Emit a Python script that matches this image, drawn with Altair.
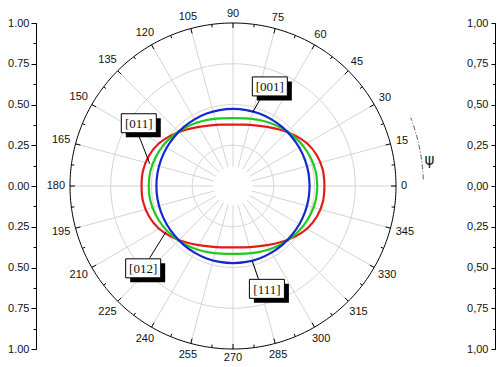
import altair as alt
import pandas as pd

# ---------------- data ----------------
angles = [0, 10, 20, 30, 40, 50, 60, 70, 80, 90,
          100, 110, 120, 130, 140, 150, 160, 170, 180,
          190, 200, 210, 220, 230, 240, 250, 260, 270,
          280, 290, 300, 310, 320, 330, 340, 350, 360]

r_blue = [0.470, 0.470, 0.470, 0.470, 0.470, 0.471, 0.472, 0.473, 0.473, 0.473,
          0.473, 0.473, 0.472, 0.471, 0.470, 0.470, 0.470, 0.470, 0.470,
          0.470, 0.470, 0.470, 0.470, 0.471, 0.472, 0.473, 0.473, 0.473,
          0.473, 0.473, 0.472, 0.471, 0.470, 0.470, 0.470, 0.470, 0.470]

r_green = [0.517, 0.515, 0.507, 0.495, 0.480, 0.464, 0.448, 0.433, 0.421, 0.417,
           0.421, 0.433, 0.448, 0.464, 0.480, 0.495, 0.507, 0.515, 0.517,
           0.515, 0.507, 0.495, 0.480, 0.464, 0.448, 0.433, 0.421, 0.417,
           0.421, 0.433, 0.448, 0.464, 0.480, 0.495, 0.507, 0.515, 0.517]

r_red = [0.561, 0.560, 0.548, 0.524, 0.488, 0.451, 0.419, 0.396, 0.382, 0.377,
         0.382, 0.396, 0.419, 0.451, 0.488, 0.524, 0.548, 0.560, 0.561,
         0.560, 0.548, 0.524, 0.488, 0.451, 0.419, 0.396, 0.382, 0.377,
         0.382, 0.396, 0.419, 0.451, 0.488, 0.524, 0.548, 0.560, 0.561]

series_names = ["[001]/[111]", "[012]", "[011]"]
series_colors = ["#1428d2", "#22c822", "#e61919"]

ring_radii = [0.25, 0.5, 0.75]
axis_major = [-1.0, -0.75, -0.5, -0.25, 0.0, 0.25, 0.5, 0.75, 1.0]
axis_minor = [-0.875, -0.625, -0.375, -0.125, 0.125, 0.375, 0.625, 0.875]

box_labels = ["[001]", "[011]", "[012]", "[111]"]
box_x = [0.226, -0.578, -0.551, 0.208]
box_y = [0.611, 0.385, -0.505, -0.631]
lead_x1 = [0.180, -0.581, -0.511, 0.156]
lead_y1 = [0.556, 0.317, -0.441, -0.569]
lead_x2 = [0.122, -0.511, -0.411, 0.118]
lead_y2 = [0.454, 0.138, -0.281, -0.461]

psi_text = ["ψ"]
psi_x = [1.206]
psi_y = [0.157]
psi_arc_r = 1.168

# ---------------- layout ----------------
R = 163.0          # pixels per unit radius
W = 459            # plot area width (left axis to right axis)
H = int(2 * R)     # plot area height
CX = 197           # centre, pixels from left of plot area
XDOM = [-CX / R, (W - CX) / R]
YDOM = [-1.0, 1.0]


def X(f):
    return alt.X(f, type="quantitative", scale=alt.Scale(domain=XDOM, nice=False, zero=False), axis=None)


def Y(f, axis=None):
    if axis is None:
        return alt.Y(f, type="quantitative", scale=alt.Scale(domain=YDOM, nice=False, zero=False), axis=None)
    return alt.Y(f, type="quantitative", scale=alt.Scale(domain=YDOM, nice=False, zero=False), axis=axis)


rad = "PI/180"

curve_rows = []
for name, rs in zip(series_names, [r_blue, r_green, r_red]):
    for a, r in zip(angles, rs):
        curve_rows.append({"a": a, "r": r, "s": name})
curves = pd.DataFrame(curve_rows)

annot = pd.DataFrame({"t": box_labels, "lx": box_x, "ly": box_y,
                      "x1": lead_x1, "y1": lead_y1, "x2": lead_x2, "y2": lead_y2})
psi = pd.DataFrame({"t": psi_text, "x": psi_x, "y": psi_y})

layers = []

# grid rings
for rr in ring_radii:
    layers.append(
        alt.Chart(alt.sequence(0, 362, 2, as_="a"))
        .transform_calculate(x=f"{rr}*cos(datum.a*{rad})", y=f"{rr}*sin(datum.a*{rad})")
        .mark_line(color="#d4d4d4", strokeWidth=1)
        .encode(x=X("x"), y=Y("y"), order="a:Q")
    )

# radial grid lines
layers.append(
    alt.Chart(alt.sequence(0, 360, 15, as_="a"))
    .transform_calculate(x=f"0.12*cos(datum.a*{rad})", y=f"0.12*sin(datum.a*{rad})",
                         x2=f"cos(datum.a*{rad})", y2=f"sin(datum.a*{rad})")
    .mark_rule(color="#d4d4d4", strokeWidth=1)
    .encode(x=X("x"), y=Y("y"), x2="x2:Q", y2="y2:Q")
)

# outer circle
layers.append(
    alt.Chart(alt.sequence(0, 361, 1, as_="a"))
    .transform_calculate(x=f"cos(datum.a*{rad})", y=f"sin(datum.a*{rad})")
    .mark_line(color="black", strokeWidth=1)
    .encode(x=X("x"), y=Y("y"), order="a:Q")
)

# ticks on outer circle
layers.append(
    alt.Chart(alt.sequence(0, 360, 7.5, as_="a"))
    .transform_calculate(ri=f"(datum.a % 15 == 0) ? (1 - 5/{R}) : (1 - 3/{R})")
    .transform_calculate(x=f"cos(datum.a*{rad})", y=f"sin(datum.a*{rad})",
                         x2=f"datum.ri*cos(datum.a*{rad})", y2=f"datum.ri*sin(datum.a*{rad})")
    .mark_rule(color="black", strokeWidth=1)
    .encode(x=X("x"), y=Y("y"), x2="x2:Q", y2="y2:Q")
)

# curves, red first, blue on top
for name, col in zip(series_names[::-1], series_colors[::-1]):
    layers.append(
        alt.Chart(curves)
        .transform_filter(alt.datum.s == name)
        .transform_calculate(x=f"datum.r*cos(datum.a*{rad})", y=f"datum.r*sin(datum.a*{rad})")
        .mark_line(color=col, strokeWidth=2.2, interpolate="catmull-rom")
        .encode(x=X("x"), y=Y("y"), order="a:Q")
    )

# angle labels
layers.append(
    alt.Chart(alt.sequence(0, 360, 15, as_="a"))
    .transform_calculate(lab="toString(datum.a)",
                         c=f"cos(datum.a*{rad})", sn=f"sin(datum.a*{rad})")
    .transform_calculate(rp=f"({R} + 5 + abs(datum.c)*3.05*length(datum.lab) + abs(datum.sn)*4.3)/{R}")
    .transform_calculate(x="datum.rp*datum.c", y="datum.rp*datum.sn")
    .mark_text(font="Liberation Sans", fontSize=11, color="#111111", align="center", baseline="middle")
    .encode(x=X("x"), y=Y("y"), text="lab:N")
)

# psi arc and symbol
layers.append(
    alt.Chart(alt.sequence(2, 21.5, 0.5, as_="a"))
    .transform_calculate(x=f"{psi_arc_r}*cos(datum.a*{rad})", y=f"{psi_arc_r}*sin(datum.a*{rad})")
    .mark_line(color="#555555", strokeWidth=1, strokeDash=[5, 2, 1, 2])
    .encode(x=X("x"), y=Y("y"), order="a:Q")
)
layers.append(
    alt.Chart(psi)
    .mark_text(font="DejaVu Sans", fontSize=15, color="#222222", align="center", baseline="middle")
    .encode(x=X("x"), y=Y("y"), text="t:N")
)

# annotation boxes
BW, BH, SH = 17.5 / R, 9.5 / R, 4.5 / R
layers.append(
    alt.Chart(annot).mark_rule(color="black", strokeWidth=1)
    .encode(x=X("x1"), y=Y("y1"), x2="x2:Q", y2="y2:Q")
)
layers.append(
    alt.Chart(annot)
    .transform_calculate(a1=f"datum.lx - {BW} + {SH}", a2=f"datum.lx + {BW} + {SH}",
                         b1=f"datum.ly - {BH} - {SH}", b2=f"datum.ly + {BH} - {SH}")
    .mark_rect(color="black")
    .encode(x=X("a1"), x2="a2:Q", y=Y("b1"), y2="b2:Q")
)
layers.append(
    alt.Chart(annot)
    .transform_calculate(a1=f"datum.lx - {BW}", a2=f"datum.lx + {BW}",
                         b1=f"datum.ly - {BH}", b2=f"datum.ly + {BH}")
    .mark_rect(fill="white", stroke="black", strokeWidth=1)
    .encode(x=X("a1"), x2="a2:Q", y=Y("b1"), y2="b2:Q")
)
layers.append(
    alt.Chart(annot)
    .mark_text(font="Liberation Serif", fontSize=13, color="#111111", align="center", baseline="middle", dy=1)
    .encode(x=X("lx"), y=Y("ly"), text="t:N")
)

# axes (left and right), each with major and minor ticks
common = dict(labelFont="Liberation Sans", labelFontSize=11, labelColor="#111111",
              domainColor="black", tickColor="black", grid=False, title="")
ax_left = alt.Axis(orient="left", values=axis_major, tickSize=5, labelPadding=2,
                   labelExpr="format(abs(datum.value), '.2f')", **common)
ax_left_minor = alt.Axis(orient="left", values=axis_minor, tickSize=3, labels=False, **common)
ax_right = alt.Axis(orient="left", offset=-W, values=axis_major, tickSize=4, labelPadding=3,
                    labelExpr="replace(format(abs(datum.value), '.2f'), '.', ',')", **common)
ax_right_minor = alt.Axis(orient="left", offset=-W, values=axis_minor, tickSize=2.5, labels=False, **common)

dummy = pd.DataFrame({"x": [0.0], "y": [0.0]})
for ax in [ax_left, ax_left_minor, ax_right, ax_right_minor]:
    layers.append(
        alt.Chart(dummy).mark_point(opacity=0).encode(x=X("x"), y=Y("y", axis=ax))
    )

chart = (
    alt.layer(*layers)
    .resolve_axis(y="independent")
    .properties(width=W, height=H,
                autosize=alt.AutoSizeParams(type="none"),
                padding={"left": 28, "top": 15, "right": 1, "bottom": 18})
    .configure_view(strokeWidth=0)
)

chart.save("out.html", embed_options={"renderer": "svg", "actions": False})
